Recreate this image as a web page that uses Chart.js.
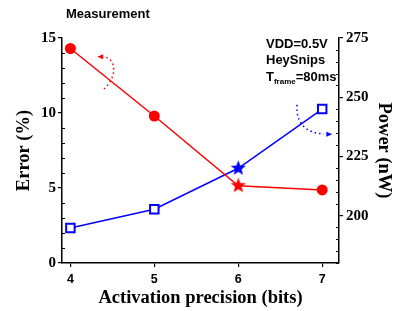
<!DOCTYPE html>
<html>
<head>
<meta charset="utf-8">
<script src="https://cdn.jsdelivr.net/npm/chart.js@4.4.1/dist/chart.umd.min.js"></script>
<style>
  html, body { margin: 0; padding: 0; background: #fff; }
  #wrap { width: 402px; height: 311px; }
</style>
</head>
<body>
<div id="wrap"><canvas id="grafico" width="402" height="311"></canvas></div>
<script>
// datos
const precision = [4, 5, 6, 7];
const errorPct = [14.3, 9.8, 5.15, 4.87];
const powerNW = [194.8, 202.7, 220, 245];
const errorTicks = [0, 5, 10, 15];
const powerTicks = [200, 225, 250, 275];
const chosenBits = 6;

const RED = '#ff0000';
const BLUE = '#0000ff';
const SERIF = '"Liberation Serif", "Times New Roman", serif';
const SANS = '"Liberation Sans", Arial, sans-serif';

// estrella rellena de 5 puntas para el punto elegido
function makeStar(color) {
  const c = document.createElement('canvas');
  c.width = 17; c.height = 17;
  const g = c.getContext('2d');
  g.beginPath();
  for (let i = 0; i < 10; i++) {
    const r = i % 2 === 0 ? 8 : 3.4;
    const a = -Math.PI / 2 + i * Math.PI / 5;
    const px = 8.5 + r * Math.cos(a), py = 8.5 + r * Math.sin(a);
    if (i === 0) g.moveTo(px, py); else g.lineTo(px, py);
  }
  g.closePath();
  g.fillStyle = color;
  g.fill();
  return c;
}
const starRed = makeStar(RED);
const starBlue = makeStar(BLUE);

// ticks menores y anotaciones
const extras = {
  id: 'extras',
  afterDraw(chart) {
    const ctx = chart.ctx;
    const { x, y, y2 } = chart.scales;
    ctx.save();
    ctx.strokeStyle = '#000';
    ctx.lineWidth = 1;
    for (let v = 0; v <= 15; v++) {
      if (v % 5 === 0) continue;
      const py = Math.round(y.getPixelForValue(v)) + 0.5;
      ctx.beginPath(); ctx.moveTo(y.right, py); ctx.lineTo(y.right + 3, py); ctx.stroke();
    }
    for (let v = 180; v <= 275; v += 5) {
      if (v % 25 === 0) continue;
      const py = Math.round(y2.getPixelForValue(v)) + 0.5;
      ctx.beginPath(); ctx.moveTo(y2.left, py); ctx.lineTo(y2.left - 3, py); ctx.stroke();
    }

    // flechas punteadas
    function arrow(color, pts, tip, dir) {
      ctx.strokeStyle = color;
      ctx.fillStyle = color;
      ctx.lineWidth = 1.5;
      ctx.setLineDash([1.5, 3]);
      ctx.beginPath();
      ctx.moveTo(pts[0][0], pts[0][1]);
      ctx.bezierCurveTo(pts[1][0], pts[1][1], pts[2][0], pts[2][1], pts[3][0], pts[3][1]);
      ctx.stroke();
      ctx.setLineDash([]);
      ctx.beginPath();
      ctx.moveTo(tip[0], tip[1]);
      ctx.lineTo(tip[0] - dir * 6, tip[1] - 2.5);
      ctx.lineTo(tip[0] - dir * 6, tip[1] + 2.5);
      ctx.closePath();
      ctx.fill();
    }
    const P = (xv, yv, sc) => [x.getPixelForValue(xv), sc.getPixelForValue(yv)];
    const r0 = P(4.4, 11.6, y), r1 = P(4.56, 12.4, y), r2 = P(4.55, 13.6, y), r3 = P(4.4, 13.75, y);
    arrow(RED, [r0, r1, r2, r3], P(4.32, 13.75, y), -1);
    const b0 = P(6.7, 246.8, y2), b1 = P(6.68, 238, y2), b2 = P(6.85, 234.5, y2), b3 = P(7.02, 234.6, y2);
    arrow(BLUE, [b0, b1, b2, b3], P(7.12, 234.4, y2), 1);

    // textos
    ctx.fillStyle = '#000';
    ctx.textBaseline = 'alphabetic';
    ctx.textAlign = 'left';
    ctx.font = 'bold 13px ' + SANS;
    ctx.fillText('Measurement', 66, 18);
    ctx.fillText('VDD=0.5V', 266, 47.5);
    ctx.fillText('HeySnips', 266, 64);
    ctx.fillText('T', 266, 80.5);
    const tw = ctx.measureText('T').width;
    ctx.font = 'bold 8px ' + SANS;
    ctx.fillText('frame', 266 + tw, 83.5);
    const fw = ctx.measureText('frame').width;
    ctx.font = 'bold 13px ' + SANS;
    ctx.fillText('=80ms', 266 + tw + fw, 80.5);
    ctx.restore();
  }
};

function axisGrid() {
  return { display: true, drawOnChartArea: false, drawTicks: true, tickLength: 4, color: '#000', lineWidth: 1.2 };
}

new Chart(document.getElementById('grafico'), {
  type: 'line',
  data: {
    datasets: [
      {
        label: 'Error',
        data: precision.map((p, i) => ({ x: p, y: errorPct[i] })),
        yAxisID: 'y',
        borderColor: RED,
        backgroundColor: RED,
        borderWidth: 1.5,
        pointStyle: precision.map(p => p === chosenBits ? starRed : 'circle'),
        pointRadius: 5.5,
        pointBorderWidth: 0,
        tension: 0
      },
      {
        label: 'Power',
        data: precision.map((p, i) => ({ x: p, y: powerNW[i] })),
        yAxisID: 'y2',
        borderColor: BLUE,
        backgroundColor: '#fff',
        borderWidth: 1.5,
        pointStyle: precision.map(p => p === chosenBits ? starBlue : 'rect'),
        pointRadius: 6,
        pointBorderWidth: 2,
        pointBorderColor: BLUE,
        pointBackgroundColor: '#fff',
        tension: 0
      }
    ]
  },
  options: {
    responsive: false,
    animation: false,
    devicePixelRatio: 1,
    layout: { padding: { top: 38, left: 0, right: 0, bottom: 0 } },
    plugins: { legend: { display: false }, tooltip: { enabled: false } },
    scales: {
      x: {
        type: 'linear',
        min: 3.9,
        max: 7.2,
        afterBuildTicks: s => { s.ticks = precision.map(v => ({ value: v })); },
        afterFit: s => { s.height = 48; },
        grid: axisGrid(),
        border: { display: true, color: '#000', width: 1.5 },
        ticks: { color: '#000', padding: 5, font: { family: SANS, weight: 'bold', size: 12.5 } },
        title: {
          display: true, text: 'Activation precision (bits)', color: '#000',
          font: { family: SERIF, weight: 'bold', size: 18.5 }, padding: { top: 0, bottom: 1.5 }
        }
      },
      y: {
        position: 'left',
        min: 0,
        max: 15,
        afterBuildTicks: s => { s.ticks = errorTicks.map(v => ({ value: v })); },
        afterFit: s => { s.width = 62; },
        grid: axisGrid(),
        border: { display: true, color: '#000', width: 1.5 },
        ticks: { color: '#000', padding: 2, font: { family: SERIF, weight: 'bold', size: 15 } },
        title: {
          display: true, text: 'Error (%)', color: '#000',
          font: { family: SERIF, weight: 'bold', size: 18.5 }, padding: { top: 13, bottom: 0 }
        }
      },
      y2: {
        position: 'right',
        min: 180,
        max: 275,
        afterBuildTicks: s => { s.ticks = powerTicks.map(v => ({ value: v })); },
        afterFit: s => { s.width = 63; },
        grid: axisGrid(),
        border: { display: true, color: '#000', width: 1.5 },
        ticks: { color: '#000', padding: 3, font: { family: SERIF, weight: 'bold', size: 15 } },
        title: {
          display: true, text: 'Power (nW)', color: '#000',
          font: { family: SERIF, weight: 'bold', size: 18.5 }, padding: { top: 7.5, bottom: 0 }
        }
      }
    }
  },
  plugins: [extras]
});
</script>
</body>
</html>
